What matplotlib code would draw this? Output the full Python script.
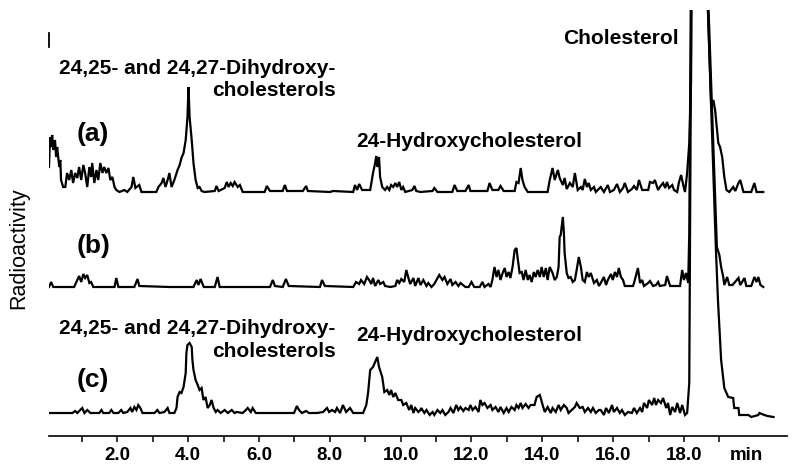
import matplotlib
matplotlib.use("Agg")
import matplotlib.pyplot as plt

# ---------------- data (time in min, relative radioactivity) ----------------
trace_a = [(0.07,25),(0.10,55),(0.13,45),(0.16,57),(0.19,42),(0.24,52),(0.27,35),(0.30,45),(0.36,25),(0.39,32),
           (0.41,12),(0.47,5),(0.53,5),(0.58,19),(0.64,12),(0.70,22),(0.75,9),(0.81,19),(0.87,14),(0.92,25),
           (0.98,12),(1.04,27),(1.09,19),(1.15,5),(1.21,25),(1.26,15),(1.29,29),(1.35,9),(1.41,22),(1.46,12),
           (1.52,29),(1.58,19),(1.63,25),(1.69,19),(1.75,24),(1.80,12),(1.86,15),(1.92,5),(1.97,2),(2.06,0),
           (2.20,2),(2.28,0),(2.40,5),(2.45,15),(2.51,4),(2.62,7),(2.68,0),(3.10,0),(3.16,5),(3.25,9),
           (3.30,14),(3.36,5),(3.42,12),(3.47,19),(3.53,5),(3.61,12),(3.70,22),(3.76,27),(3.81,34),(3.87,39),
           (3.93,52),(3.98,75),(4.01,105),(4.04,75),(4.10,52),(4.15,29),(4.21,12),(4.27,4),(4.32,5),(4.38,1),
           (4.46,0),(4.75,1),(4.80,6),(4.86,1),(5.03,4),(5.09,10),(5.14,5),(5.20,9),(5.26,6),(5.31,10),
           (5.40,5),(5.46,7),(5.54,0),(6.16,0),(6.22,6),(6.31,1),(6.67,1),(6.73,7),(6.79,1),(7.24,1),
           (7.33,6),(7.38,1),(8.01,0),(8.09,1),(8.66,0),(8.71,7),(8.77,2),(8.83,8),(8.91,2),(9.14,2),
           (9.22,19),(9.28,29),(9.31,36),(9.34,25),(9.39,35),(9.42,15),(9.48,5),(9.56,2),(9.62,5),(9.68,2),
           (9.73,7),(9.79,5),(9.85,9),(9.90,5),(9.96,10),(10.02,2),(10.07,5),(10.13,0),(10.33,2),(10.39,6),
           (10.44,1),(10.56,0),(10.90,1),(10.95,4),(11.04,0),(11.46,0),(11.52,7),(11.60,1),(11.83,1),(11.92,7),
           (11.97,1),(12.45,1),(12.51,9),(12.59,2),(12.76,2),(12.82,6),(12.91,1),(13.22,1),(13.27,10),(13.33,9),
           (13.39,24),(13.44,12),(13.50,5),(13.59,0),(14.15,0),(14.21,12),(14.29,24),(14.35,12),(14.44,22),(14.49,14),
           (14.58,7),(14.63,14),(14.69,3),(14.78,9),(14.86,5),(14.92,19),(15.00,2),(15.09,5),(15.14,2),(15.20,13),
           (15.26,5),(15.31,9),(15.37,2),(15.46,5),(15.51,0),(15.65,5),(15.74,0),(15.85,7),(15.91,0),(16.02,2),
           (16.11,8),(16.19,0),(16.28,4),(16.33,9),(16.42,0),(16.53,3),(16.59,6),(16.67,2),(16.73,12),(16.82,2),
           (16.99,2),(17.04,10),(17.13,9),(17.18,12),(17.27,2),(17.32,5),(17.41,9),(17.47,4),(17.52,10),(17.58,4),
           (17.67,7),(17.72,2),(17.81,0),(17.86,10),(17.92,17),(17.98,7),(18.03,0),(18.09,19),(18.15,49),(18.20,109),
           (18.27,612),(18.77,85),(18.83,92),(18.88,82),(18.97,49),(19.02,45),(19.08,35),(19.14,15),(19.20,2),(19.28,0),
           (19.39,5),(19.45,1),(19.54,9),(19.59,12),(19.68,0),(19.90,0),(19.99,9),(20.05,0),(20.24,0)]

trace_b = [(0.07,0),(0.13,5),(0.19,0),(0.50,0),(0.78,0),(0.87,7),(0.92,11),(0.98,5),(1.04,13),(1.09,9),
           (1.15,12),(1.21,4),(1.26,5),(1.32,0),(1.92,0),(1.97,9),(2.03,0),(2.48,0),(2.57,8),(2.62,1),
           (3.47,0),(4.15,0),(4.24,7),(4.29,2),(4.35,8),(4.44,0),(4.75,0),(4.83,10),(4.89,0),(5.54,0),
           (6.31,0),(6.39,7),(6.45,1),(6.67,0),(6.76,8),(6.84,1),(7.72,0),(7.78,7),(7.86,1),(8.66,0),
           (8.74,5),(8.83,3),(8.88,7),(8.97,3),(9.05,10),(9.11,7),(9.17,3),(9.22,9),(9.28,1),(9.37,7),
           (9.42,3),(9.51,5),(9.56,1),(9.71,0),(9.85,1),(9.90,7),(9.96,4),(10.02,8),(10.10,5),(10.16,17),
           (10.22,9),(10.27,3),(10.36,9),(10.41,1),(10.50,9),(10.56,2),(10.64,7),(10.73,1),(10.78,4),(10.87,0),
           (10.95,3),(11.01,7),(11.09,12),(11.18,7),(11.24,10),(11.32,3),(11.41,8),(11.46,2),(11.55,5),(11.63,1),
           (11.69,4),(11.83,0),(11.92,0),(12.00,5),(12.08,0),(12.23,0),(12.31,5),(12.37,0),(12.48,3),(12.54,0),
           (12.59,7),(12.65,20),(12.71,10),(12.76,17),(12.82,7),(12.88,14),(12.94,19),(12.99,10),(13.05,15),(13.10,9),
           (13.16,20),(13.22,37),(13.27,39),(13.30,30),(13.36,14),(13.42,15),(13.47,7),(13.53,17),(13.59,7),(13.64,12),
           (13.70,5),(13.76,15),(13.81,10),(13.87,17),(13.93,10),(13.98,20),(14.04,10),(14.10,19),(14.15,7),(14.21,20),
           (14.29,14),(14.35,7),(14.41,10),(14.46,20),(14.49,50),(14.52,52),(14.58,70),(14.61,54),(14.63,34),(14.69,14),
           (14.74,9),(14.80,10),(14.86,5),(14.92,7),(14.97,17),(15.03,30),(15.09,20),(15.14,7),(15.20,5),(15.26,15),
           (15.31,10),(15.37,14),(15.46,4),(15.54,7),(15.60,1),(15.65,4),(15.74,10),(15.80,2),(15.85,7),(15.94,13),
           (15.99,7),(16.05,15),(16.11,10),(16.16,19),(16.22,10),(16.28,7),(16.33,1),(16.56,1),(16.59,4),(16.70,19),
           (16.76,4),(16.82,7),(16.87,1),(16.99,4),(17.04,6),(17.13,1),(17.21,2),(17.27,5),(17.32,1),(17.47,2),
           (17.52,11),(17.61,1),(17.89,1),(17.95,17),(18.00,7),(18.06,14),(18.12,4),(18.15,54),(18.27,707),(18.93,40),
           (19.00,32),(19.05,20),(19.11,10),(19.14,2),(19.22,10),(19.28,2),(19.37,2),(19.54,9),(19.59,2),(19.71,9),
           (19.76,1),(19.90,1),(19.99,10),(20.05,5),(20.10,10),(20.16,2),(20.24,0)]

trace_c = [(0.07,0),(0.73,0),(0.81,2),(0.87,0),(0.95,3),(1.01,5),(1.07,0),(1.15,3),(1.24,0),(1.49,0),
           (1.55,3),(1.60,0),(1.77,0),(1.83,3),(1.89,0),(2.03,0),(2.11,3),(2.17,0),(2.28,1),(2.37,5),
           (2.42,1),(2.48,6),(2.54,3),(2.59,8),(2.65,5),(2.71,0),(3.05,0),(3.13,3),(3.19,0),(3.33,1),
           (3.42,5),(3.47,0),(3.61,0),(3.67,5),(3.70,16),(3.76,21),(3.81,20),(3.87,26),(3.93,40),(3.95,60),
           (3.98,68),(4.04,70),(4.10,66),(4.12,53),(4.15,43),(4.21,33),(4.27,28),(4.32,23),(4.38,25),(4.43,13),
           (4.49,16),(4.55,5),(4.61,8),(4.66,13),(4.72,5),(4.78,1),(4.83,3),(4.92,0),(5.03,3),(5.12,0),
           (5.23,3),(5.31,0),(5.37,1),(5.54,0),(5.63,3),(5.68,5),(5.77,1),(5.82,5),(5.91,0),(6.11,0),
           (6.50,0),(6.99,0),(7.07,7),(7.13,3),(7.21,0),(7.33,2),(7.41,0),(7.64,0),(7.81,1),(7.92,5),
           (7.98,1),(8.06,3),(8.15,1),(8.20,5),(8.29,0),(8.37,8),(8.46,1),(8.57,5),(8.66,0),(8.94,0),
           (9.03,8),(9.08,20),(9.14,43),(9.22,46),(9.28,51),(9.34,56),(9.39,46),(9.48,36),(9.54,21),(9.62,23),
           (9.68,18),(9.73,23),(9.79,16),(9.85,20),(9.93,13),(10.02,13),(10.07,8),(10.16,10),(10.24,3),(10.30,8),
           (10.36,0),(10.41,5),(10.50,1),(10.56,3),(10.58,5),(10.67,0),(10.73,3),(10.82,-2),(10.90,1),(10.95,-2),
           (11.04,3),(11.12,0),(11.18,3),(11.26,-2),(11.35,1),(11.41,5),(11.49,0),(11.57,8),(11.63,3),(11.69,6),
           (11.77,2),(11.83,5),(11.92,3),(11.97,8),(12.03,3),(12.11,6),(12.20,1),(12.25,13),(12.31,8),(12.37,10),
           (12.45,5),(12.54,8),(12.59,3),(12.68,6),(12.76,1),(12.82,6),(12.91,0),(12.99,5),(13.05,1),(13.13,6),
           (13.22,3),(13.27,8),(13.33,5),(13.39,10),(13.44,5),(13.53,9),(13.61,5),(13.67,8),(13.78,8),(13.84,16),
           (13.93,18),(14.01,8),(14.07,1),(14.15,6),(14.24,0),(14.29,5),(14.38,1),(14.46,8),(14.52,3),(14.61,8),
           (14.69,5),(14.74,0),(14.83,3),(14.92,6),(14.97,10),(15.06,5),(15.14,6),(15.20,1),(15.29,5),(15.37,1),
           (15.43,5),(15.51,0),(15.60,3),(15.65,3),(15.74,-2),(15.80,5),(15.88,0),(15.97,8),(16.02,1),(16.11,5),
           (16.19,0),(16.25,3),(16.33,-2),(16.42,1),(16.53,0),(16.59,5),(16.67,0),(16.76,5),(16.82,1),(16.87,10),
           (16.96,5),(17.01,13),(17.10,8),(17.16,15),(17.21,8),(17.27,13),(17.35,10),(17.41,15),(17.50,5),(17.55,10),
           (17.61,-2),(17.67,6),(17.75,1),(17.81,10),(17.89,0),(17.95,8),(18.03,-2),(18.09,0),(18.15,30),(18.27,833),
           (18.90,166),(18.96,113),(19.05,53),(19.14,25),(19.20,20),(19.25,16),(19.39,15),(19.42,5),(19.54,5),(19.56,-2),
           (19.82,-2),(19.90,-4),(20.10,-2),(20.13,0),(20.27,-2),(20.36,-3),(20.53,-4)]

traces = [trace_a, trace_b, trace_c]
trace_tags = ["(a)", "(b)", "(c)"]

tick_values = [2, 4, 6, 8, 10, 12, 14, 16, 18]
tick_labels = ["2.0", "4.0", "6.0", "8.0", "10.0", "12.0", "14.0", "16.0", "18.0"]
minor_tick_values = [1, 3, 5, 7, 9, 11, 13, 15, 17, 19]
unit_label = "min"
y_label = "Radioactivity"

label_dihydroxy_1 = "24,25- and 24,27-Dihydroxy-"
label_dihydroxy_2 = "cholesterols"
label_hydroxy = "24-Hydroxycholesterol"
label_cholesterol = "Cholesterol"

# ---------------- layout (vertical stacking offsets, styles) ----------------
offsets = [244, 149, 23]
W, H = 800, 471
FONT = "Liberation Sans"

fig = plt.figure(figsize=(W / 100, H / 100), dpi=100)
ax = fig.add_axes([49 / W, 35 / H, 738 / W, 426 / H])
ax.set_xlim(0.07, 20.91)
ax.set_ylim(0, 426)

for tr, off in zip(traces, offsets):
    t = [p[0] for p in tr]
    h = [p[1] + off for p in tr]
    ax.plot(t, h, color="black", lw=1.6, solid_joinstyle="miter")

for s in ["top", "right", "left"]:
    ax.spines[s].set_visible(False)
ax.spines["bottom"].set_linewidth(1.2)
ax.set_yticks([])

ax.set_xticks(tick_values + [19.75])
ax.set_xticklabels(tick_labels + [unit_label], fontfamily=FONT, fontweight="bold", fontsize=13.5)
ax.set_xticks(minor_tick_values, minor=True)
ax.tick_params(axis="x", which="both", direction="out", length=4.5, width=1.1, color="black", pad=3.5)
ax.xaxis.get_major_ticks()[-1].tick1line.set_visible(False)

# small vertical mark at top-left
ax.plot([0, 0], [0.913, 0.946], transform=ax.transAxes, color="black", lw=1.3, clip_on=False)

fig.text(19 / W, 1 - 248 / H, y_label, rotation=90, ha="center", va="center",
         fontfamily=FONT, fontsize=15.5)

lab = dict(fontfamily=FONT, fontweight="bold", fontsize=15, color="black")
tag = dict(fontfamily=FONT, fontweight="bold", fontsize=19, color="black")

# (a)
ax.text(0.35, 362, label_dihydroxy_1, ha="left", va="baseline", **lab)
ax.text(8.17, 340, label_dihydroxy_2, ha="right", va="baseline", **lab)
ax.text(8.74, 289, label_hydroxy, ha="left", va="baseline", **lab)
ax.text(17.86, 392, label_cholesterol, ha="right", va="baseline", **lab)
# (c)
ax.text(0.35, 102, label_dihydroxy_1, ha="left", va="baseline", **lab)
ax.text(8.17, 79, label_dihydroxy_2, ha="right", va="baseline", **lab)
ax.text(8.74, 95, label_hydroxy, ha="left", va="baseline", **lab)

for tg, ty in zip(trace_tags, [302.5, 190, 55.5]):
    ax.text(0.86, ty, tg, ha="left", va="center", **tag)

fig.savefig("out.png", dpi=100)
